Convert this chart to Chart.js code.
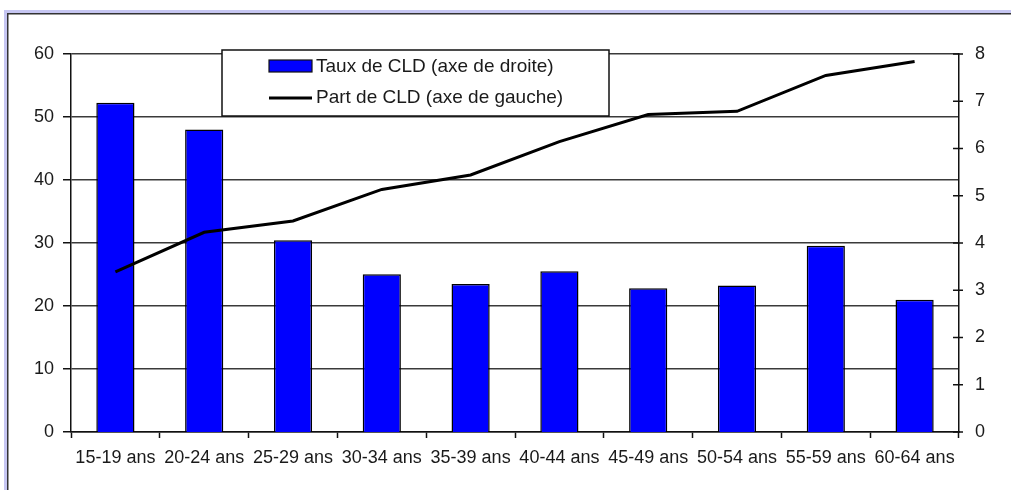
<!DOCTYPE html>
<html>
<head>
<meta charset="utf-8">
<script src="https://cdn.jsdelivr.net/npm/chart.js@4"></script>
<style>
  body { margin: 0; background: #fff; }
  #cld { display: block; }
</style>
</head>
<body>
<canvas id="cld" width="1011" height="490"></canvas>
<script>
const ageLabels = ['15-19 ans', '20-24 ans', '25-29 ans', '30-34 ans', '35-39 ans',
                   '40-44 ans', '45-49 ans', '50-54 ans', '55-59 ans', '60-64 ans'];
// taux de CLD, read on the right axis
const tauxCLD = [6.97, 6.40, 4.06, 3.34, 3.13, 3.40, 3.04, 3.10, 3.94, 2.80];
// part de CLD, read on the left axis
const partCLD = [25.4, 31.7, 33.5, 38.5, 40.8, 46.1, 50.4, 50.9, 56.6, 58.8];

const FONT = "'Liberation Sans', Arial, sans-serif";
const TXT = '#1a1a1a';

// outer frame of the original sheet
const framePlugin = {
    id: 'frame',
    beforeDraw(chart) {
        const ctx = chart.ctx;
        ctx.save();
        ctx.fillStyle = '#c6c6f2';
        ctx.fillRect(4, 10, 1007, 3);
        ctx.fillRect(4, 10, 3, 480);
        ctx.fillStyle = '#333';
        ctx.fillRect(7, 13, 1004, 1.5);
        ctx.fillRect(7, 13, 1.5, 477);
        ctx.restore();
    }
};

// right axis ticks cross the axis line
const rightTicks = {
    id: 'rightTicks',
    afterDraw(chart) {
        const s = chart.scales.y1;
        const ctx = chart.ctx;
        ctx.save();
        ctx.strokeStyle = '#111';
        ctx.lineWidth = 1.5;
        s.ticks.forEach(t => {
            const y = s.getPixelForValue(t.value);
            ctx.beginPath();
            ctx.moveTo(s.left - 6, y);
            ctx.lineTo(s.left + 4, y);
            ctx.stroke();
        });
        ctx.restore();
    }
};

// boxed legend like the spreadsheet one
const boxLegend = {
    id: 'boxLegend',
    afterDraw(chart) {
        const ctx = chart.ctx;
        const ds = chart.data.datasets;
        ctx.save();
        ctx.fillStyle = '#fff';
        ctx.fillRect(222, 50, 387, 66);
        ctx.strokeStyle = '#111';
        ctx.lineWidth = 1.5;
        ctx.strokeRect(222, 50, 387, 66);

        ctx.fillStyle = ds[0].backgroundColor;
        ctx.fillRect(269, 60, 43, 12);
        ctx.strokeStyle = '#111';
        ctx.lineWidth = 1.2;
        ctx.strokeRect(269, 60, 43, 12);

        ctx.strokeStyle = ds[1].borderColor;
        ctx.lineWidth = 3;
        ctx.beginPath();
        ctx.moveTo(269, 98);
        ctx.lineTo(312, 98);
        ctx.stroke();

        ctx.fillStyle = TXT;
        ctx.font = '19px ' + FONT;
        ctx.textBaseline = 'alphabetic';
        ctx.fillText(ds[0].label, 316, 72);
        ctx.fillText(ds[1].label, 316, 103);
        ctx.restore();
    }
};

new Chart(document.getElementById('cld'), {
    data: {
        labels: ageLabels,
        datasets: [{
            type: 'bar',
            label: 'Taux de CLD (axe de droite)',
            data: tauxCLD,
            yAxisID: 'y1',
            backgroundColor: '#0000ff',
            borderColor: '#000',
            borderWidth: 1.5,
            barPercentage: 0.43,
            categoryPercentage: 1,
            order: 1
        }, {
            type: 'line',
            label: 'Part de CLD (axe de gauche)',
            data: partCLD,
            yAxisID: 'y',
            borderColor: '#000',
            borderWidth: 3,
            pointRadius: 0,
            tension: 0,
            order: 0
        }]
    },
    options: {
        responsive: false,
        animation: false,
        devicePixelRatio: 1,
        layout: { padding: { top: 54, left: 0, right: 0, bottom: 0 } },
        plugins: {
            legend: { display: false },
            tooltip: { enabled: false }
        },
        scales: {
            x: {
                offset: true,
                grid: {
                    offset: true,
                    drawOnChartArea: false,
                    drawTicks: true,
                    tickLength: 6,
                    tickColor: '#111',
                    tickWidth: 1.5
                },
                border: { display: true, color: '#111', width: 1.5 },
                ticks: { color: TXT, font: { family: FONT, size: 18 }, padding: 9, maxRotation: 0, autoSkip: false },
                afterFit(s) { s.height = 58; }
            },
            y: {
                position: 'left',
                min: 0,
                max: 60,
                ticks: { stepSize: 10, color: TXT, font: { family: FONT, size: 18 }, padding: 9 },
                grid: {
                    color: '#3a3a3a',
                    lineWidth: 1.5,
                    drawTicks: true,
                    tickLength: 8,
                    tickColor: '#111'
                },
                border: { display: true, color: '#111', width: 1.5 },
                afterFit(s) { s.width = 71; }
            },
            y1: {
                position: 'right',
                min: 0,
                max: 8,
                ticks: { stepSize: 1, color: TXT, font: { family: FONT, size: 18 }, padding: 16 },
                grid: { display: false, drawTicks: false },
                border: { display: true, color: '#111', width: 1.5 },
                afterFit(s) { s.width = 52; }
            }
        }
    },
    plugins: [framePlugin, rightTicks, boxLegend]
});
</script>
</body>
</html>
